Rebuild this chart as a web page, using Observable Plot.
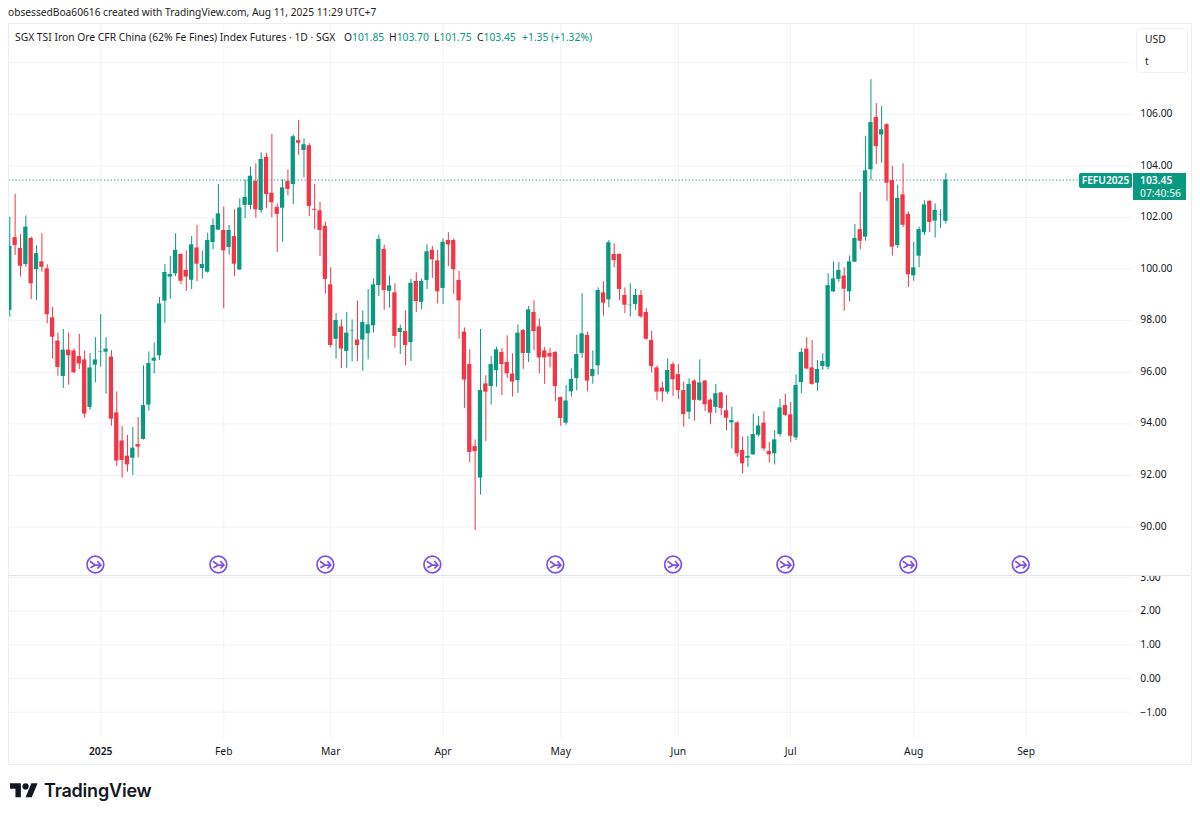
<!DOCTYPE html>
<html>
<head>
<meta charset="utf-8">
<script src="https://cdn.jsdelivr.net/npm/d3@7"></script>
<script src="https://cdn.jsdelivr.net/npm/@observablehq/plot@0.6"></script>
<style>
html,body{margin:0;padding:0;background:#fff;width:1200px;height:817px;overflow:hidden}
body{position:relative;font-family:"Noto Sans",sans-serif;color:#131722}
.abs{position:absolute;white-space:nowrap}
svg{display:block}
</style>
</head>
<body>
<script>
const open = [
98.40,101.22,100.80,100.18,101.19,99.98,100.28,100.01,98.11,97.21,
95.84,96.86,96.83,96.61,96.48,94.64,96.28,96.77,96.78,96.59,
94.43,93.34,92.75,92.67,93.20,93.40,94.73,96.43,96.64,98.76,
99.69,99.82,100.57,99.95,99.57,100.82,100.02,99.88,101.03,101.51,
101.50,100.84,101.26,99.97,102.47,102.47,103.40,102.27,104.33,102.94,
102.39,102.36,103.40,103.28,104.98,104.60,104.78,102.32,102.26,101.66,
99.39,97.28,97.76,96.81,97.60,97.25,97.25,97.49,97.80,99.36,
100.77,99.14,99.08,97.54,97.58,97.15,99.52,98.71,99.56,100.73,
100.32,99.25,101.11,101.11,99.56,97.56,96.30,93.12,91.90,95.55,
95.45,96.07,96.77,96.38,95.93,95.68,97.62,96.73,98.32,97.76,
96.83,96.73,96.77,95.02,94.03,95.24,95.76,96.73,97.43,95.84,
96.25,99.08,98.81,100.57,100.57,98.98,98.58,98.63,98.98,98.32,
97.23,96.17,95.39,95.23,96.30,95.91,95.29,94.45,95.66,94.91,
95.66,94.92,94.64,95.20,94.51,94.04,94.04,92.97,92.67,92.80,
93.56,94.03,92.93,92.84,93.59,94.71,94.35,93.46,95.60,96.90,
96.17,95.58,96.22,96.20,99.12,99.60,99.73,99.12,100.27,101.53,
101.24,103.85,105.88,105.20,105.60,103.43,100.91,102.88,102.12,99.74,
100.50,101.41,102.63,101.86,102.10,101.85];
const high = [
102.01,102.89,101.34,102.06,101.24,100.91,101.37,100.17,98.52,97.52,
97.66,97.52,96.91,97.47,96.82,96.73,97.34,98.24,97.34,96.84,
95.24,93.90,93.55,93.86,94.25,96.25,96.79,97.14,98.90,100.18,
100.49,101.37,100.59,100.71,101.26,101.70,100.70,101.39,101.95,103.28,
102.40,101.69,102.30,102.72,103.46,103.95,104.08,104.51,104.49,105.22,
102.53,103.46,103.85,105.20,105.76,105.05,104.86,103.28,102.59,101.82,
100.05,98.28,98.03,98.32,98.03,98.76,98.38,99.21,99.62,101.32,
100.93,99.73,99.43,97.83,98.38,99.60,99.86,99.62,100.94,100.88,
100.72,101.17,101.41,101.17,99.91,97.72,96.87,93.38,97.66,95.86,
96.61,96.97,96.92,97.41,96.72,97.84,97.67,98.55,98.77,98.07,
96.96,96.94,96.80,95.04,95.49,96.13,97.43,99.04,97.56,96.83,
99.27,99.51,101.11,100.98,100.59,99.27,99.43,99.21,99.17,98.47,
97.59,96.24,95.62,96.52,96.39,96.30,95.62,95.75,95.71,96.48,
95.69,94.97,95.53,95.22,95.10,94.65,94.08,93.49,93.51,94.38,
94.29,94.47,93.28,93.74,94.95,95.14,94.83,95.90,96.92,97.34,
97.23,96.46,96.72,99.82,100.28,100.26,100.05,100.51,101.73,102.98,
105.15,107.34,106.41,106.30,105.63,103.98,103.25,104.08,102.22,101.04,
101.63,102.65,102.65,102.53,102.30,103.70];
const low = [
98.14,100.53,99.69,100.07,98.82,98.78,99.88,97.88,96.51,95.85,
95.38,95.50,95.95,96.11,94.22,94.53,95.59,96.20,95.15,93.91,
92.35,91.90,92.13,92.00,92.68,93.38,94.49,95.94,96.46,97.90,
98.83,99.71,99.40,99.14,99.21,99.51,99.61,99.84,100.75,101.50,
98.46,100.54,99.71,99.95,101.95,102.31,101.97,102.17,102.34,101.99,
100.64,101.04,102.84,102.50,104.40,103.54,102.04,101.53,100.49,99.04,
96.95,96.51,96.15,96.15,96.41,96.42,96.04,96.48,97.52,98.94,
98.40,98.50,96.94,96.69,96.25,96.42,98.32,98.42,99.21,99.64,
98.65,98.63,100.10,99.02,97.28,94.60,92.50,89.87,91.24,93.32,
94.73,95.42,95.10,95.77,95.04,95.18,96.11,96.38,96.84,95.94,
95.53,96.17,94.87,93.91,93.95,95.04,95.28,96.53,95.24,95.54,
95.88,98.18,98.50,100.05,98.78,98.28,98.14,98.40,98.09,97.25,
95.97,94.91,94.84,95.14,95.07,94.95,93.87,94.17,94.11,94.87,
94.48,93.98,94.40,94.31,93.73,93.03,92.71,92.06,92.32,92.78,
93.49,92.94,92.48,92.41,93.49,94.29,93.28,93.36,95.17,96.10,
95.50,95.26,96.07,96.10,99.09,99.49,98.37,98.73,100.25,100.75,
101.08,103.43,104.05,104.11,102.63,100.50,100.81,101.61,99.29,99.53,
100.05,101.30,101.42,101.20,101.57,101.75];
const close = [
100.88,100.91,100.11,101.63,99.43,100.60,100.07,98.23,97.36,96.19,
96.86,96.64,95.98,96.32,94.38,96.17,96.48,96.79,96.90,94.18,
92.56,92.58,92.41,93.06,93.10,94.71,96.34,96.55,98.65,99.87,
99.79,100.73,99.53,99.69,100.94,100.19,100.18,101.11,101.69,102.14,
100.71,101.50,100.19,102.37,102.78,103.60,102.30,104.25,102.89,102.57,
102.12,103.15,103.09,105.13,104.88,104.82,102.43,102.28,101.50,99.60,
97.04,98.01,96.90,97.52,97.62,97.04,97.93,97.84,99.39,101.15,
99.17,99.35,97.39,97.70,97.04,99.45,98.74,99.52,100.67,100.36,
99.12,101.04,100.94,99.98,98.77,95.70,92.89,92.93,95.29,95.23,
96.30,96.87,96.30,95.94,95.62,97.52,96.73,98.42,97.58,96.56,
96.56,96.59,95.45,94.21,94.89,95.72,96.69,97.49,95.66,96.11,
99.17,98.68,101.02,100.33,99.21,98.60,98.60,98.98,98.15,97.28,
96.22,95.23,95.24,96.07,95.71,95.29,94.36,95.53,94.91,95.59,
94.74,94.42,95.17,94.60,94.22,94.13,92.84,92.45,92.74,93.59,
93.92,93.03,92.80,93.38,94.62,94.33,93.52,95.49,96.77,96.13,
95.53,96.11,96.42,99.36,99.62,99.95,99.22,100.28,101.19,101.08,
103.81,105.68,104.75,105.40,103.33,100.85,102.74,101.70,99.78,100.05,
101.53,102.49,101.81,102.28,102.12,103.45];

const monthBars = [17, 40, 60, 81, 103, 125, 146, 169, 190];
const monthLabels = ["2025", "Feb", "Mar", "Apr", "May", "Jun", "Jul", "Aug", "Sep"];
const eventBars = [16, 39, 59, 79, 102, 124, 145, 168, 189];
const priceTicks = [90, 92, 94, 96, 98, 100, 102, 104, 106, 108];
const priceLabels = [90, 92, 94, 96, 98, 100, 102, 104, 106];
const lowerTicks = [-1, 0, 1, 2, 3];
const lastPrice = 103.45;

const UP = "#089981", DOWN = "#F23645", GRID = "#f2f3f6", INK = "#131722", EVENT = "#7c50e6";
const bars = open.map((o, i) => ({i, open: o, high: high[i], low: low[i], close: close[i]}));
const up = bars.filter(d => d.close >= d.open);
const down = bars.filter(d => d.close < d.open);

const xOpts = {domain: [-0.11, 209.9], axis: null, label: null};
const fmt = d3.format(".2f");
const baseStyle = {fontFamily: '"Noto Sans",sans-serif', fontSize: "10.3px", color: INK, background: "transparent", overflow: "hidden"};

function candles(data, color) {
  return [
    Plot.ruleX(data, {x: "i", y1: "low", y2: "high", stroke: color, strokeWidth: 1, clip: true}),
    Plot.rect(data, {x1: d => d.i - 0.4, x2: d => d.i + 0.4, y1: "open", y2: "close", fill: color, clip: true})
  ];
}
const eventIcon = {
  draw(c) {
    const r = 8.4;
    c.moveTo(r, 0); c.arc(0, 0, r, 0, 2 * Math.PI); c.closePath();
    c.moveTo(-5.5, -3.2); c.lineTo(0, 0.6); c.lineTo(-5, 3.2);
    c.moveTo(-0.5, 0.6); c.lineTo(5.5, 0.6);
    c.moveTo(2, -3.5); c.lineTo(5.5, 0.6); c.lineTo(2, 4);
  }
};

const main = Plot.plot({
  width: 1200, height: 553,
  marginTop: 0, marginBottom: 0, marginLeft: 8.7, marginRight: 68,
  style: baseStyle,
  x: xOpts,
  y: {domain: [88.085, 109.52], axis: null, label: null},
  marks: [
    Plot.gridX({ticks: monthBars, stroke: GRID, strokeOpacity: 1}),
    Plot.gridY({ticks: priceTicks, stroke: GRID, strokeOpacity: 1}),
    Plot.ruleY([lastPrice], {stroke: UP, strokeWidth: 1, strokeDasharray: "1.2,2.2"}),
    ...candles(down, DOWN),
    ...candles(up, UP),
    Plot.dot(eventBars, {x: d => d, frameAnchor: "bottom", dy: -12, r: 8, symbol: eventIcon, stroke: EVENT, strokeWidth: 1.7, fill: "none"}),
    Plot.axisY({ticks: priceLabels, anchor: "right", tickSize: 0, tickPadding: 7.8, dy: -0.7, tickFormat: fmt, fontSize: 10.3, label: null})
  ]
});

const lower = Plot.plot({
  width: 1200, height: 188,
  marginTop: 0, marginBottom: 26, marginLeft: 8.7, marginRight: 68,
  style: baseStyle,
  x: xOpts,
  y: {domain: [-1.78, 3.027], axis: null, label: null},
  marks: [
    Plot.gridX({ticks: monthBars, stroke: GRID, strokeOpacity: 1}),
    Plot.gridY({ticks: lowerTicks, stroke: GRID, strokeOpacity: 1}),
    Plot.axisY({ticks: lowerTicks, anchor: "right", tickSize: 0, tickPadding: 7.8, tickFormat: fmt, fontSize: 10.3, label: null}),
    Plot.axisX({ticks: monthBars.slice(1), anchor: "bottom", tickSize: 0, tickPadding: 9, tickFormat: d => monthLabels[monthBars.indexOf(d)], fontSize: 10.3, label: null}),
    Plot.axisX({ticks: monthBars.slice(0, 1), anchor: "bottom", tickSize: 0, tickPadding: 9, tickFormat: d => monthLabels[monthBars.indexOf(d)], fontSize: 10.3, fontWeight: 600, label: null})
  ]
});

function place(el, left, top) {
  el.style.position = "absolute"; el.style.left = left + "px"; el.style.top = top + "px";
  document.body.appendChild(el);
}
function addDiv(html, css) {
  const d = document.createElement("div");
  d.className = "abs"; d.innerHTML = html; d.style.cssText += css;
  document.body.appendChild(d);
  return d;
}
place(main, 0, 23);
place(lower, 0, 576);

// pane frame and divider
addDiv("", "left:7.5px;top:22.5px;width:1182px;height:740px;border:1.5px solid #ecedf1;pointer-events:none");
addDiv("", "left:8px;top:575px;width:1182px;height:1px;background:#e4e5ea");

// header text
addDiv("obsessedBoa60616 created with TradingView.com, Aug 11, 2025 11:29 UTC+7", "left:8px;top:5px;font-size:10.2px;line-height:15px;color:#222");

// legend line, one item at a time
const legendCss = "top:29.5px;font-size:10.3px;line-height:15px;color:#222;";
const tval = s => `<span style="color:${UP}">${s}</span>`;
const legendItems = [
  [15, "SGX TSI Iron Ore CFR China (62% Fe Fines) Index Futures · 1D · SGX"],
  [344, "O" + tval("101.85")],
  [389, "H" + tval("103.70")],
  [434, "L" + tval("101.75")],
  [477, "C" + tval("103.45")],
  [522, tval("+1.35 (+1.32%)")]
];
legendItems.forEach(([left, html]) => addDiv(html, `left:${left}px;${legendCss}`));

// currency / unit box
addDiv(`<div style="position:absolute;left:8px;top:3px">USD</div><div style="position:absolute;left:8px;top:25px">t</div>`,
  "left:1136px;top:28px;width:50px;height:43px;border:1px solid #f0f1f5;border-radius:4px;background:#fff;font-size:10.3px;line-height:15px;color:#222");

// last-price labels
const yLast = 23 + main.scale("y").apply(lastPrice);
addDiv("FEFU2025", `left:1079px;top:${yLast - 7}px;width:53px;height:15px;background:${UP};border-radius:2px;color:#fff;font-size:10.2px;line-height:15px;text-align:center;font-weight:600`);
addDiv(`<div style="font-weight:600">103.45</div><div style="opacity:.85">07:40:56</div>`, `left:1133px;top:${yLast - 7}px;width:46px;padding-left:7px;background:${UP};color:#fff;font-size:10.3px;line-height:13px;font-weight:500;padding-top:1px;box-sizing:content-box;height:26px`);

// logo
addDiv(`<svg width="28" height="15" viewBox="0 0 36 18.5" style="display:block"><path fill="#131722" d="M14 18H7V7H0V0h14v18zM28 18h-8L27.5 0h8L28 18z"/><circle cx="20" cy="4" r="4" fill="#131722"/></svg>`, "left:10px;top:783px");
addDiv("TradingView", 'left:44px;top:778px;font-family:Inter,sans-serif;font-weight:600;font-size:18px;line-height:26px;color:#131722;letter-spacing:-0.2px');
</script>
</body>
</html>
